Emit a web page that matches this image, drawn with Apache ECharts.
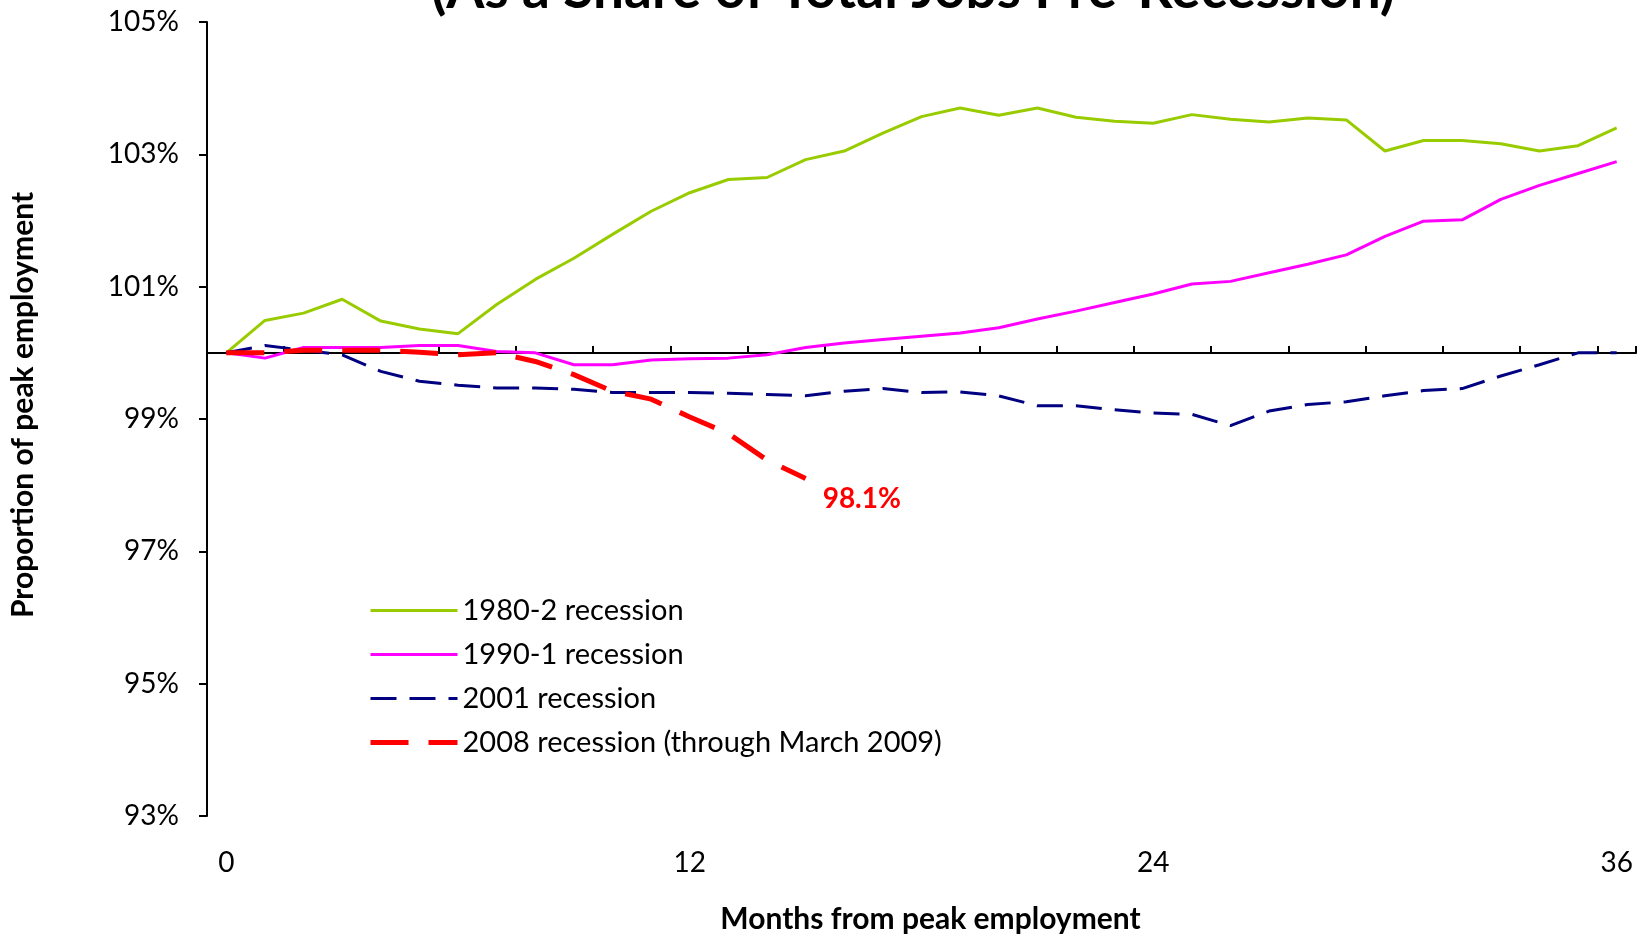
<!DOCTYPE html>
<html>
<head>
<meta charset="utf-8">
<script src="https://cdn.jsdelivr.net/npm/echarts@6/dist/echarts.min.js"></script>
<style>
html,body{margin:0;padding:0;background:#fff;}
#chart{width:1648px;height:941px;}
</style>
</head>
<body>
<div id="chart"></div>
<script>
// Months from peak employment (categories)
var months = ['0','1','2','3','4','5','6','7','8','9','10','11','12','13','14','15','16','17','18',
  '19','20','21','22','23','24','25','26','27','28','29','30','31','32','33','34','35','36'];

// Proportion of peak employment (%)
var rec1980 = [100, 100.49, 100.60, 100.81, 100.48, 100.36, 100.29, 100.73, 101.11, 101.43, 101.79, 102.14,
  102.42, 102.62, 102.65, 102.92, 103.05, 103.32, 103.57, 103.70, 103.59, 103.70, 103.56, 103.50, 103.47,
  103.60, 103.53, 103.49, 103.55, 103.52, 103.05, 103.21, 103.21, 103.16, 103.05, 103.13, 103.40];
var rec1990 = [100, 99.92, 100.08, 100.08, 100.08, 100.11, 100.11, 100.02, 100.00, 99.82, 99.82, 99.89,
  99.91, 99.92, 99.97, 100.08, 100.15, 100.20, 100.25, 100.30, 100.38, 100.51, 100.63, 100.76, 100.89,
  101.04, 101.08, 101.21, 101.34, 101.48, 101.76, 101.99, 102.01, 102.32, 102.53, 102.71, 102.89];
var rec2001 = [100, 100.11, 100.04, 99.97, 99.72, 99.57, 99.51, 99.47, 99.47, 99.45, 99.40, 99.40,
  99.40, 99.39, 99.37, 99.35, 99.42, 99.46, 99.40, 99.41, 99.35, 99.20, 99.20, 99.14, 99.09,
  99.07, 98.90, 99.12, 99.22, 99.26, 99.35, 99.43, 99.46, 99.65, 99.82, 100.00, 100.00];
var rec2008 = [100, 100.00, 100.04, 100.04, 100.04, 100.01, 99.97, 100.00, 99.87, 99.67, 99.42, 99.30,
  99.03, 98.78, 98.38, 98.10];

var seriesNames = ['1980-2 recession', '1990-1 recession', '2001 recession', '2008 recession (through March 2009)'];
var seriesColors = ['#99CC00', '#FF00FF', '#000080', '#FF0000'];
var yTicks = {min: 93, max: 105, step: 2};

var FONT = 'Lato, "Open Sans", sans-serif';
var chart = echarts.init(document.getElementById('chart'), null, {renderer: 'canvas'});

var lineStyles = [
  {color: seriesColors[0], width: 3, type: 'solid'},
  {color: seriesColors[1], width: 3, type: 'solid'},
  {color: seriesColors[2], width: 3, type: [26, 13]},
  {color: seriesColors[3], width: 5, type: [38, 20]}
];

var option = {
  backgroundColor: '#ffffff',
  animation: false,
  title: {
    text: '(As a Share of Total Jobs Pre-Recession)',
    left: 908,
    top: -42,
    textAlign: 'center',
    textStyle: {fontFamily: FONT, fontSize: 55, fontWeight: 'bold', color: '#000'}
  },
  legend: {
    orient: 'vertical',
    left: 363,
    top: 591,
    itemWidth: 87,
    itemHeight: 14,
    itemGap: 15,
    itemStyle: {opacity: 0},
    data: seriesNames.map(function (n, i) {
      return {name: n, lineStyle: {width: lineStyles[i].width, color: lineStyles[i].color, type: lineStyles[i].type}};
    }),
    textStyle: {fontFamily: FONT, fontSize: 29, color: '#000'}
  },
  grid: [
    {left: 207, right: 12, top: 22, bottom: 125},
    {left: 207, right: 12, top: 22, bottom: 588}
  ],
  xAxis: [
    {
      type: 'category', gridIndex: 0, data: months, boundaryGap: true,
      axisLine: {show: false}, axisTick: {show: false},
      axisLabel: {interval: 11, margin: 33, fontFamily: FONT, fontSize: 28, color: '#000'},
      name: 'Months from peak employment', nameLocation: 'middle', nameGap: 88,
      nameTextStyle: {fontFamily: FONT, fontSize: 30, fontWeight: 'bold', color: '#000', padding: [0, 0, 0, 18]}
    },
    {
      type: 'category', gridIndex: 1, data: months, boundaryGap: true,
      axisLine: {show: true, lineStyle: {color: '#000', width: 2}},
      axisTick: {show: true, inside: true, interval: 1, length: 7, lineStyle: {color: '#000', width: 2}},
      axisLabel: {show: false}
    }
  ],
  yAxis: [
    {
      type: 'value', gridIndex: 0, min: yTicks.min, max: yTicks.max, interval: yTicks.step,
      splitLine: {show: false},
      axisLine: {show: true, lineStyle: {color: '#000', width: 2}},
      axisTick: {show: true, length: 8, lineStyle: {color: '#000', width: 2}},
      axisLabel: {formatter: '{value}%', margin: 28, fontFamily: FONT, fontSize: 28, color: '#000'},
      name: 'Proportion of peak employment', nameLocation: 'middle', nameGap: 169, nameRotate: 90,
      nameTextStyle: {fontFamily: FONT, fontSize: 30, fontWeight: 'bold', color: '#000', padding: [0, 0, 0, 28]}
    },
    {
      type: 'value', gridIndex: 1, show: false, min: 0, max: 1
    }
  ],
  series: [
    {
      name: seriesNames[0], type: 'line', xAxisIndex: 0, yAxisIndex: 0, data: rec1980,
      symbol: 'none', lineStyle: lineStyles[0], itemStyle: {color: seriesColors[0]}, z: 3
    },
    {
      name: seriesNames[1], type: 'line', xAxisIndex: 0, yAxisIndex: 0, data: rec1990,
      symbol: 'none', lineStyle: lineStyles[1], itemStyle: {color: seriesColors[1]}, z: 3
    },
    {
      name: seriesNames[2], type: 'line', xAxisIndex: 0, yAxisIndex: 0, data: rec2001,
      symbol: 'none', lineStyle: lineStyles[2], itemStyle: {color: seriesColors[2]}, z: 3
    },
    {
      name: seriesNames[3], type: 'line', xAxisIndex: 0, yAxisIndex: 0, data: rec2008,
      symbol: 'none', lineStyle: lineStyles[3], itemStyle: {color: seriesColors[3]}, z: 4,
      endLabel: {
        show: true, formatter: function (p) { return p.value.toFixed(1) + '%'; },
        color: '#FF0000', fontFamily: FONT, fontSize: 28, fontWeight: 'bold', offset: [9, 20]
      }
    }
  ]
};
chart.setOption(option);
</script>
</body>
</html>
